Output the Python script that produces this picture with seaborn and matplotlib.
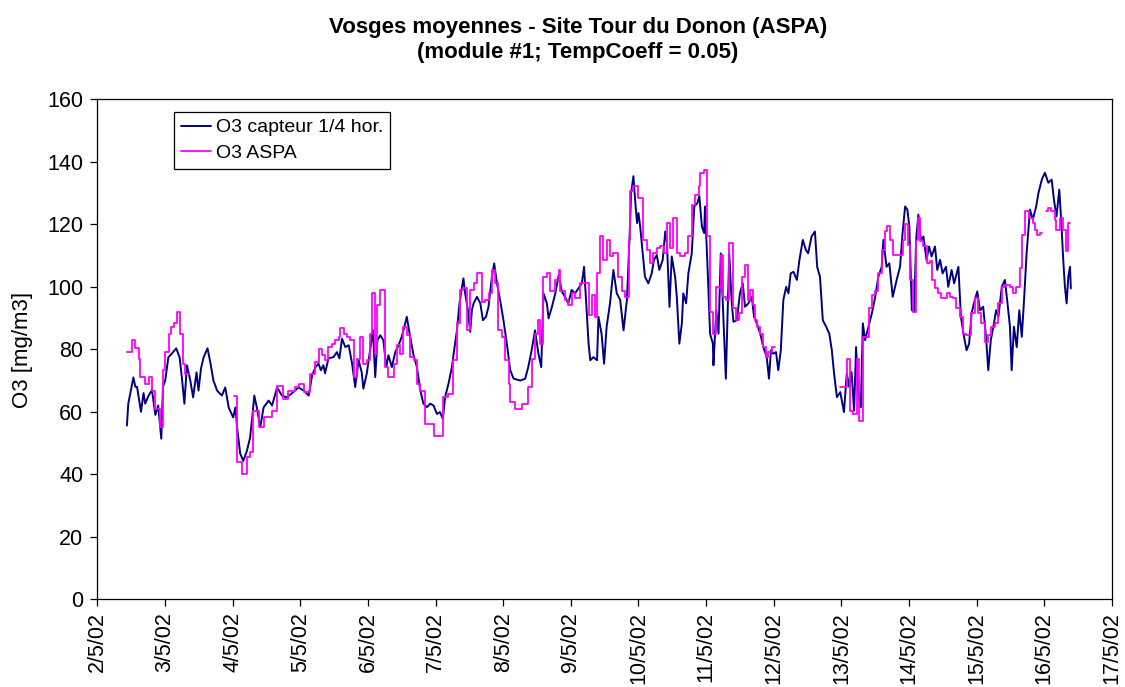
import numpy as np
import pandas as pd
import matplotlib
matplotlib.use("Agg")
import matplotlib.pyplot as plt
from matplotlib.lines import Line2D
import seaborn as sns

# ---------------- data (hours since 2/5/02 00:00) ----------------
capteur_hours = [
    10.5, 11.0, 11.9, 12.8, 13.5, 14.1, 15.5, 16.4, 17.0, 18.1, 19.4, 20.6, 21.6, 22.7, 23.3,
    24.1, 25.2, 26.5, 28.0, 29.2, 30.0, 30.9, 31.8, 33.0, 34.0, 35.2, 35.9, 36.8, 37.7, 39.1,
    40.1, 41.2, 42.5, 44.2, 45.4, 46.6, 48.2, 49.0, 49.6, 50.7, 51.8, 53.1, 54.2, 55.1, 55.7,
    56.6, 57.8, 59.0, 60.8, 62.0, 63.8, 65.5, 67.2, 69.0, 71.4, 73.2, 75.0, 76.2, 77.4, 78.5,
    79.3, 80.2, 80.8, 82.0, 83.8, 85.0, 85.9, 86.8, 88.0, 89.2, 90.4, 91.5, 92.7, 93.8, 94.4,
    95.6, 96.8, 97.8, 98.6, 99.4, 100.4, 101.5, 102.5, 103.3, 104.5, 105.7, 106.9, 108.0, 108.8, 109.8,
    111.0, 112.2, 113.4, 114.6, 115.7, 117.0, 118.1, 119.3, 120.5, 121.6, 122.6, 123.4, 124.6, 125.8, 126.6,
    127.6, 128.5, 129.4, 129.9, 130.5, 131.5, 132.3, 132.9, 133.5, 134.7, 135.9, 136.8, 137.9, 138.8, 140.0,
    140.8, 141.8, 142.9, 144.1, 145.3, 146.5, 147.7, 150.1, 151.8, 152.9, 154.1, 155.3, 156.5, 157.5, 158.3,
    159.5, 160.1, 161.3, 162.5, 163.7, 164.8, 165.9, 167.1, 168.3, 169.5, 170.7, 171.9, 172.7, 173.4, 174.3,
    174.9, 176.0, 177.3, 177.8, 178.9, 179.8, 180.7, 181.9, 183.1, 184.3, 185.5, 186.7, 187.9, 188.8, 189.4,
    190.2, 190.8, 191.5, 192.0, 192.6, 193.5, 194.3, 195.5, 196.7, 197.5, 198.5, 199.4, 200.6, 201.5, 202.1,
    203.0, 203.8, 205.0, 205.6, 206.5, 207.4, 207.9, 208.9, 209.7, 210.9, 211.8, 212.9, 213.6, 214.5, 215.3,
    215.6, 216.5, 217.4, 218.4, 218.6, 219.6, 220.4, 221.2, 222.1, 223.0, 224.2, 225.1, 225.7, 226.9, 228.0,
    229.0, 229.8, 231.0, 232.2, 233.0, 234.0, 235.2, 236.3, 237.5, 238.3, 239.0, 239.8, 240.8, 241.6, 242.5,
    243.4, 244.4, 245.2, 246.0, 247.0, 248.2, 249.1, 250.3, 251.4, 252.2, 253.4, 254.6, 255.4, 256.4, 257.4,
    258.6, 259.7, 260.6, 261.4, 262.4, 263.6, 264.9, 265.9, 266.8, 267.6, 268.5, 269.2, 270.0, 270.9, 271.6,
    272.4, 273.6, 274.8, 276.0, 277.1, 278.3, 278.9, 280.0, 281.0, 282.2, 283.6, 284.8, 285.7, 286.6, 287.4,
    288.1, 289.0, 289.8, 290.5, 291.3, 292.2, 293.1, 294.2, 295.1, 296.0, 297.2, 298.0, 299.0, 299.9, 301.1,
    301.9, 303.1, 304.0, 305.5, 306.4, 307.5, 308.4, 309.3, 310.2, 311.0, 312.2, 313.2, 314.3, 315.3, 316.1,
    317.0, 317.9, 318.9, 319.7, 320.9, 322.0, 322.8, 323.8, 324.4, 325.2, 326.2, 327.1, 328.0, 328.8, 329.7,
    330.9, 331.9, 333.1, 333.9, 335.1, 336.2, 337.4, 338.6, 339.4, 340.3, 341.3, 342.1, 342.7, 343.3, 343.9,
    344.5, 345.1, 345.4,
]
capteur_o3 = [
    55.6, 62.6, 66.8, 71.0, 68.0, 68.0, 60.0, 66.0, 62.6, 65.0, 67.0, 59.0, 62.0, 51.4, 68.0,
    70.0, 77.4, 78.7, 80.3, 77.4, 71.0, 62.6, 74.9, 70.0, 64.6, 72.6, 66.8, 73.9, 77.4, 80.3,
    75.8, 70.0, 66.8, 65.2, 67.8, 61.4, 58.2, 61.4, 55.0, 46.6, 44.3, 47.6, 51.7, 59.4, 65.2,
    61.4, 55.0, 61.4, 63.6, 62.0, 67.8, 65.2, 64.6, 65.9, 67.8, 66.8, 65.2, 71.6, 74.3, 75.4,
    73.3, 74.9, 72.3, 77.1, 77.5, 79.1, 77.1, 83.4, 80.7, 81.3, 75.4, 67.9, 76.5, 72.7, 67.4,
    72.2, 79.7, 86.1, 71.1, 82.9, 84.5, 82.9, 74.3, 78.1, 74.3, 79.1, 81.3, 84.0, 86.7, 90.4,
    84.0, 78.1, 74.3, 66.8, 62.6, 61.5, 62.6, 62.0, 59.3, 59.9, 57.7, 64.7, 69.0, 74.3, 79.7,
    86.1, 94.7, 100.0, 102.7, 97.9, 92.5, 85.6, 92.5, 94.7, 96.8, 94.7, 89.3, 90.4, 93.6, 103.2,
    107.5, 101.1, 95.8, 89.3, 81.8, 73.3, 70.6, 70.0, 70.6, 74.3, 79.7, 86.1, 78.6, 74.3, 97.9,
    94.7, 89.9, 93.6, 97.9, 103.8, 98.5, 96.8, 94.7, 99.0, 97.9, 99.5, 101.1, 106.4, 95.8, 81.8,
    76.5, 77.5, 76.5, 90.4, 85.0, 75.4, 87.2, 94.7, 105.4, 97.9, 95.8, 86.1, 95.8, 115.0, 130.0,
    135.4, 127.9, 120.4, 123.6, 119.3, 110.7, 103.2, 101.1, 104.3, 108.6, 110.2, 105.4, 108.6, 117.7, 114.0,
    93.6, 109.7, 103.2, 96.8, 81.8, 88.3, 97.9, 94.7, 104.3, 110.7, 125.7, 126.8, 129.0, 119.3, 117.2,
    125.7, 106.4, 85.0, 81.8, 74.9, 92.5, 85.0, 110.7, 90.4, 70.6, 110.7, 94.7, 88.8, 89.3, 97.9,
    101.1, 93.6, 94.7, 96.8, 90.4, 88.3, 85.0, 80.7, 77.5, 70.6, 79.7, 78.6, 79.1, 73.3, 79.7,
    95.8, 100.0, 97.9, 104.3, 104.8, 102.2, 108.6, 115.0, 111.8, 110.7, 116.1, 117.7, 106.4, 103.2, 89.3,
    87.2, 85.0, 79.7, 72.2, 64.7, 66.3, 59.9, 72.2, 67.9, 72.7, 60.4, 80.7, 65.8, 61.5, 88.3,
    82.9, 87.2, 91.5, 96.8, 103.2, 106.4, 115.0, 106.4, 107.5, 96.8, 102.2, 106.4, 117.2, 125.7, 124.7,
    119.3, 92.5, 92.0, 115.0, 123.1, 115.0, 116.1, 108.6, 112.9, 109.7, 112.9, 105.4, 108.6, 104.3, 106.4,
    100.0, 105.4, 101.1, 106.4, 90.4, 84.0, 79.7, 81.8, 91.5, 94.7, 98.5, 92.5, 93.6, 84.0, 73.3,
    82.9, 87.2, 92.5, 90.4, 100.0, 102.2, 95.8, 87.2, 73.3, 87.2, 80.7, 92.5, 84.0, 95.8, 110.7,
    124.7, 121.5, 125.7, 130.0, 134.3, 136.5, 133.3, 134.3, 127.9, 122.5, 131.1, 119.3, 108.6, 100.0, 94.7,
    103.2, 106.4, 99.5,
]

# hourly reference (step series); NaN marks a gap in the record
aspa_hours = [
    10.5, 12.3, 13.5, 14.7, 15.3, 17.0, 18.2, 19.4, 20.6, 22.3, 23.3, 24.1, 25.3, 26.1, 27.1,
    28.3, 29.4, 30.3, 31.2, 32.4,
    48.4, 49.6, 51.3, 53.1, 54.2, 55.4, 57.2, 59.0, 62.0, 63.8, 66.0, 67.8, 70.2, 71.4, 73.2,
    75.6, 77.4, 78.5, 79.7, 80.8, 82.0, 83.2, 84.4, 85.6, 86.2, 87.4, 88.6, 89.8, 90.9, 92.2,
    93.2, 94.4, 95.6, 96.8, 97.4, 98.6, 99.2, 100.4, 102.2, 103.3, 105.1, 106.3, 107.4, 108.6, 109.8,
    111.0, 112.2, 113.4, 114.6, 116.3, 119.3, 122.8, 124.6, 126.3, 127.6, 128.7, 129.9, 131.1, 132.3, 133.5,
    134.7, 136.4, 137.6, 138.8, 140.0, 141.1, 142.3, 143.5, 144.7, 145.9, 146.4, 148.1, 150.6, 152.9, 154.1,
    155.3, 156.5, 157.1, 158.3, 159.5, 160.7, 162.5, 163.7, 164.3, 165.9, 167.1, 168.3, 169.5, 171.3, 174.3,
    175.5, 176.7, 177.3, 178.4, 179.5, 180.7, 181.9, 183.1, 184.9, 186.1, 187.3, 188.5, 189.1, 190.2, 192.0,
    193.7, 194.9, 196.1, 197.3, 198.5, 199.7, 200.9, 202.1, 203.2, 204.4, 205.6, 206.8, 208.5, 209.7, 210.9,
    212.1, 213.3, 213.9, 215.1, 216.3, 217.4, 218.4, 219.6, 220.4, 221.2, 222.1, 223.0, 224.2, 225.4, 226.6,
    227.8, 228.6, 229.8, 230.7, 231.6, 232.6, 233.4, 234.2, 235.2, 236.3, 237.2, 238.1, 239.3, 240.4,
    263.6, 265.9, 267.1, 268.0, 269.5, 270.4, 271.6, 273.9, 274.8, 276.0, 277.1, 278.3, 279.4, 280.0, 281.2,
    282.4, 285.7, 286.5, 287.6, 288.5, 289.4, 290.3, 291.2, 292.0, 293.0, 294.2, 295.3, 296.1, 297.1, 298.3,
    299.5, 301.3, 302.4, 303.6, 304.8, 306.0, 307.1, 308.3, 310.1, 311.3, 312.5, 313.7, 314.8, 316.0, 317.2,
    318.4, 319.6, 320.8, 321.9, 323.7, 324.9, 326.1, 327.3, 328.2, 329.0, 330.6, 331.8, 332.6, 333.4, 334.3,
    335.3,
    336.5, 337.3, 338.5, 339.7, 340.3, 341.5, 342.6, 343.6, 344.4, 345.2,
]
aspa_o3 = [
    79.1, 83.1, 80.3, 77.0, 71.1, 69.0, 71.0, 66.8, 61.0, 55.0, 73.3, 79.1, 85.0, 87.2, 88.3,
    92.0, 85.0, 75.4, 72.2, np.nan,
    65.2, 43.8, 40.2, 45.4, 47.0, 60.4, 55.0, 58.3, 60.4, 68.4, 64.2, 66.8, 68.0, 69.0, 66.3,
    72.2, 75.9, 80.2, 78.1, 76.5, 80.7, 81.8, 82.9, 84.0, 86.7, 85.0, 84.0, 82.9, 71.1, 77.0,
    84.0, 75.4, 76.5, 85.0, 97.9, 78.6, 94.1, 99.0, 74.3, 71.1, 75.4, 81.3, 78.6, 87.2, 84.5,
    77.5, 76.5, 69.0, 66.8, 56.1, 52.4, 64.7, 65.8, 76.5, 88.3, 99.0, 99.5, 86.1, 99.0, 101.1,
    104.3, 95.2, 95.8, 97.9, 105.4, 101.1, 86.1, 84.0, 76.5, 69.0, 63.0, 61.0, 62.5, 67.9, 77.0,
    85.0, 89.3, 81.8, 103.2, 104.3, 98.5, 102.2, 105.4, 98.5, 95.8, 94.1, 97.9, 96.3, 101.1, 90.9,
    97.4, 90.4, 104.3, 116.1, 108.6, 115.0, 109.7, 110.7, 103.2, 98.5, 96.8, 115.0, 130.5, 132.2, 128.4,
    115.0, 111.8, 107.5, 110.7, 112.4, 112.9, 110.7, 120.4, 112.4, 122.0, 110.7, 109.7, 110.7, 116.1, 126.3,
    129.5, 132.2, 136.5, 137.5, 116.1, 92.0, 85.0, 100.0, 99.5, 110.2, 96.8, 95.8, 114.0, 93.1, 89.3,
    91.5, 103.2, 107.0, 95.8, 99.0, 94.1, 89.3, 87.2, 85.0, 80.7, 77.5, 79.1, 80.7, np.nan,
    67.9, 77.0, 60.4, 59.3, 77.0, 57.2, 84.0, 93.1, 97.4, 98.5, 104.3, 111.8, 117.7, 119.3, 115.0,
    110.2, 115.0, 120.0, 113.4, 102.2, 92.0, 115.0, 122.0, 114.5, 112.9, 107.5, 108.1, 102.2, 99.5, 97.9,
    96.3, 97.9, 96.8, 96.3, 93.1, 90.4, 85.0, 84.5, 91.5, 96.3, 91.5, 88.3, 82.4, 84.5, 87.2,
    88.3, 94.7, 100.0, 100.6, 100.0, 97.9, 100.0, 106.0, 116.6, 124.1, 122.0, 120.4, 118.2, 116.6, 117.2,
    np.nan,
    124.1, 125.2, 124.1, 121.5, 118.2, 122.0, 118.2, 111.3, 120.4, 120.4,
]

date_labels = ["2/5/02", "3/5/02", "4/5/02", "5/5/02", "6/5/02", "7/5/02", "8/5/02", "9/5/02",
               "10/5/02", "11/5/02", "12/5/02", "13/5/02", "14/5/02", "15/5/02", "16/5/02", "17/5/02"]
y_ticks = [0, 20, 40, 60, 80, 100, 120, 140, 160]

series_names = ["O3 capteur 1/4 hor.", "O3 ASPA"]
title_text = "Vosges moyennes - Site Tour du Donon (ASPA)\n(module #1; TempCoeff = 0.05)"
ylabel_text = "O3 [mg/m3]"

# ---------------- build frames ----------------
df_cap = pd.DataFrame({"hours": capteur_hours, "o3": capteur_o3})

# split step series into continuous segments; a NaN closes the previous segment
rows = []
seg = 0
prev_val = None
for h, v in zip(aspa_hours, aspa_o3):
    if np.isnan(v):
        if prev_val is not None:
            rows.append((h, prev_val, seg))
        seg += 1
        prev_val = None
    else:
        rows.append((h, v, seg))
        prev_val = v
df_aspa = pd.DataFrame(rows, columns=["hours", "o3", "seg"])

# ---------------- style ----------------
sns.set_style("ticks")
plt.rcParams["font.family"] = ["Liberation Sans", "DejaVu Sans"]
plt.rcParams["text.color"] = "black"
plt.rcParams["axes.labelcolor"] = "black"
plt.rcParams["axes.linewidth"] = 0.9

navy = "#000080"
magenta = "#FF00FF"

fig = plt.figure(figsize=(11.25, 6.87), dpi=100)
ax = fig.add_axes([97.3 / 1125, 1 - 599.3 / 687, (1112 - 97.3) / 1125, 500 / 687])

sns.lineplot(data=df_cap, x="hours", y="o3", ax=ax, color=navy, linewidth=1.4,
             estimator=None, sort=False, zorder=2)
sns.lineplot(data=df_aspa, x="hours", y="o3", units="seg", ax=ax, color=magenta,
             linewidth=1.3, estimator=None, sort=False, drawstyle="steps-post", zorder=3)

ax.set_xlim(0, 24 * (len(date_labels) - 1))
ax.set_ylim(y_ticks[0], y_ticks[-1])
ax.set_xticks([24 * i for i in range(len(date_labels))])
ax.set_xticklabels(date_labels, rotation=90)
ax.set_yticks(y_ticks)
ax.tick_params(axis="both", direction="out", length=5, width=0.9, colors="black",
               labelsize=15.5)
ax.tick_params(axis="x", pad=4)
ax.tick_params(axis="y", pad=5)
for sp in ax.spines.values():
    sp.set_visible(True)
    sp.set_color("black")
    sp.set_linewidth(0.9)
ax.grid(False)
ax.set_xlabel("")
ax.set_ylabel(ylabel_text, fontsize=16, color="black")
ax.yaxis.set_label_coords(-0.0634, 0.4986)

handles = [Line2D([0], [0], color=navy, lw=1.4), Line2D([0], [0], color=magenta, lw=1.3)]
leg = ax.legend(handles, series_names, loc="upper left",
                bbox_to_anchor=(174 / 1125, 1 - 112 / 687), bbox_transform=fig.transFigure,
                borderaxespad=0, frameon=True, fancybox=False, shadow=False,
                fontsize=14, handlelength=1.55, handletextpad=0.25, labelspacing=0.4,
                borderpad=0.35)
leg.get_frame().set_edgecolor("black")
leg.get_frame().set_linewidth(0.9)
leg.get_frame().set_alpha(1)
for t in leg.get_texts():
    t.set_color("black")

fig.text(578 / 1125, 1 - 40 / 687, title_text, ha="center", va="center",
         fontsize=16, fontweight="bold", linespacing=1.3, color="black")

fig.savefig("out.png", dpi=100, facecolor="white")
